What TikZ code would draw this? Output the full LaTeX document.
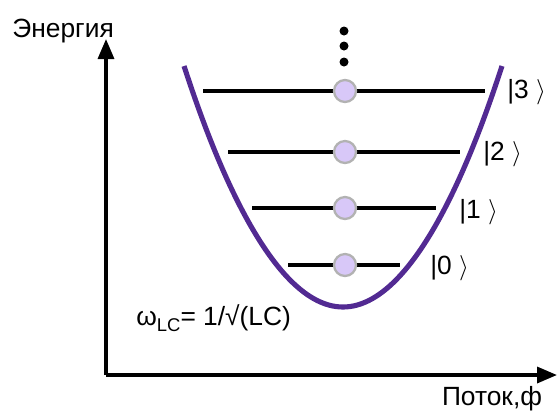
\documentclass[tikz,border=0pt]{standalone}
\usepackage{fontspec}
\setmainfont{Liberation Sans}
\usetikzlibrary{arrows.meta}
\definecolor{wellpurple}{RGB}{82,42,146}
\definecolor{statefill}{RGB}{216,200,248}

\begin{document}
\begin{tikzpicture}[
    x=0.02cm, y=-0.02cm,
    axis/.style={line width=1.9pt, -{Triangle[length=0.4cm,width=0.32cm]}},
    well/.style={line width=2.9pt, wellpurple},
    level/.style={line width=2.1pt},
    state/.style={circle, draw=black!30, line width=1.3pt, fill=statefill, minimum size=0.44cm, inner sep=0pt},
    dot/.style={circle, fill=black, minimum size=0.18cm, inner sep=0pt},
    lbl/.style={font=\fontsize{15}{17}\selectfont, inner sep=0pt}
]
    \useasboundingbox (0,0) rectangle (557,410);

    % --- Axes ---
    \coordinate (origin) at (106,375);
    \coordinate (ytop) at (106,39);
    \coordinate (xend) at (557,375);
    \draw[axis] (origin) -- (ytop);
    \draw[axis] (origin) -- (xend);
    \node[lbl, anchor=base west] (ylabel) at (12,37) {Энергия};
    \node[lbl, anchor=base] (xlabel) at (492,405) {Поток,ф};

    % --- Potential well ---
    \draw[well] (184,66) parabola bend (343,307) (502,66);

    % --- Energy levels ---
    \foreach \n/\y/\xa/\xb/\kx/\ky in {0/265/288/400/430/274, 1/208/252/436/459/218, 2/152/228/460/483/160, 3/91/203/485/507/98}{
        \draw[level] (\xa,\y) -- (\xb,\y);
        \node[state] (s\n) at (345,\y) {};
        \node[lbl, anchor=base west] (k\n) at (\kx,\ky) {|\n\ $\rangle$};
    }

    % --- Higher states ---
    \node[dot] (d1) at (344,62) {};
    \node[dot] (d2) at (344,46) {};
    \node[dot] (d3) at (344,31) {};

    % --- Frequency ---
    \node[lbl, anchor=base west] (freq) at (136,325) {ω\raisebox{-0.45ex}{\fontsize{10.5}{12}\selectfont LC}= 1/√(LC)};
\end{tikzpicture}
\end{document}
